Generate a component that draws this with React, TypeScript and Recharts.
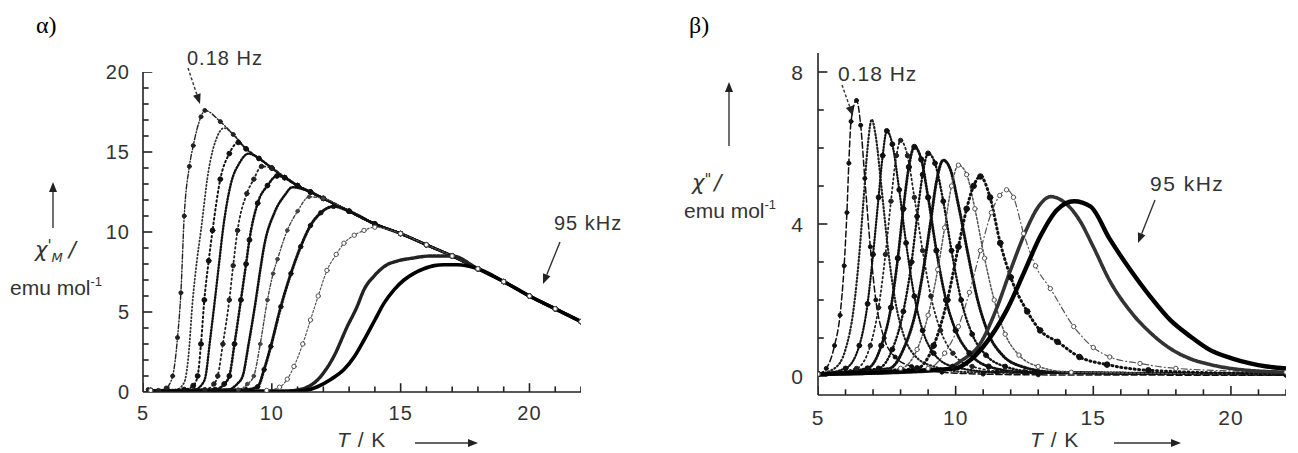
import React from 'react';
import { LineChart, Line, XAxis, YAxis } from 'recharts';

type Pt = [number, number];

// ---------- shared axis ticks ----------
const xTicks = [5, 6, 7, 8, 9, 10, 11, 12, 13, 14, 15, 16, 17, 18, 19, 20, 21, 22];
const xMajor = [5, 10, 15, 20];
const alphaYTicks = [0, 1, 2, 3, 4, 5, 6, 7, 8, 9, 10, 11, 12, 13, 14, 15, 16, 17, 18, 19, 20];
const alphaYMajor = [0, 5, 10, 15, 20];
const betaYTicks = [0, 1, 2, 3, 4, 5, 6, 7, 8];
const betaYMajor = [0, 4, 8];

// ---------- α panel: χ'M (emu/mol) vs T (K) ----------
const alphaEnvelope: Pt[] = [[7.5, 17.6], [8, 16.9], [8.5, 16.1], [9, 15.2], [9.5, 14.6], [10, 14.0], [10.5, 13.4], [11, 12.9], [11.5, 12.5], [12, 12.1], [13, 11.3], [14, 10.5], [15, 9.9], [16, 9.2], [17, 8.5], [18, 7.7], [19, 6.9], [20, 6.0], [21, 5.2], [22, 4.4]];
const alpha018Hz: Pt[] = [[5.2, 0.15], [5.6, 0.1], [5.9, 0.25], [6.15, 1.0], [6.34, 3.4], [6.47, 6.2], [6.6, 11.0], [6.8, 14.1], [6.95, 15.4], [7.25, 17.2], [7.4, 17.6]];
const alphaF2: Pt[] = [[5.3, 0.1], [6.3, 0.15], [6.6, 0.6], [6.75, 2.0], [6.93, 5.75], [7.1, 8.3], [7.25, 10.1], [7.53, 13.7], [7.89, 16.0], [8.15, 16.5]];
const alphaF3: Pt[] = [[5.3, 0.1], [6.6, 0.15], [6.95, 0.4], [7.12, 1.0], [7.25, 3.0], [7.38, 5.75], [7.55, 8.2], [7.7, 10.1], [8.0, 13.3], [8.35, 14.9], [8.7, 15.6]];
const alphaF4: Pt[] = [[5.3, 0.1], [7.0, 0.15], [7.3, 0.5], [7.43, 1.0], [7.6, 3.2], [7.79, 5.75], [7.95, 8.0], [8.1, 10.1], [8.41, 13.0], [8.74, 14.3], [9.1, 14.9]];
const alphaF5: Pt[] = [[5.3, 0.1], [7.4, 0.15], [7.75, 0.5], [7.9, 1.0], [8.1, 3.0], [8.35, 5.75], [8.5, 7.9], [8.67, 10.1], [9.03, 12.4], [9.3, 13.3], [9.6, 14.1]];
const alphaF6: Pt[] = [[5.3, 0.1], [7.8, 0.15], [8.15, 0.5], [8.35, 1.0], [8.55, 3.0], [8.8, 5.75], [9.0, 8.0], [9.13, 9.5], [9.45, 11.8], [9.83, 12.9], [10.2, 13.5]];
const alphaF7: Pt[] = [[5.3, 0.1], [8.3, 0.15], [8.65, 0.5], [8.87, 1.0], [9.1, 3.0], [9.38, 5.75], [9.55, 7.6], [9.7, 9.1], [10.1, 11.2], [10.5, 12.3], [10.8, 12.8]];
const alphaF8: Pt[] = [[5.3, 0.1], [8.7, 0.15], [9.05, 0.5], [9.3, 1.0], [9.55, 3.0], [9.83, 5.75], [10.05, 7.4], [10.22, 8.3], [10.6, 10.1], [11.0, 11.3], [11.45, 12.2]];
const alphaF9: Pt[] = [[5.3, 0.1], [9.0, 0.15], [9.45, 0.33], [9.7, 1.4], [9.96, 2.85], [10.35, 5.33], [10.74, 7.4], [11.12, 9.08], [11.5, 10.4], [11.9, 11.2], [12.4, 11.6]];
const alphaF10: Pt[] = [[5.3, 0.1], [9.8, 0.1], [10.3, 0.3], [10.6, 0.8], [10.86, 1.6], [11.2, 3.0], [11.5, 4.5], [11.8, 6.0], [12.14, 7.6], [12.5, 8.6], [12.8, 9.3], [13.2, 9.8], [13.58, 10.1], [14.0, 10.3]];
const alphaF11: Pt[] = [[5.3, 0.05], [10.5, 0.05], [11.2, 0.2], [11.8, 0.8], [12.4, 2.2], [12.93, 4.1], [13.3, 5.3], [13.58, 6.4], [14.0, 7.3], [14.35, 7.83], [14.9, 8.2], [15.4, 8.35], [16.16, 8.5], [16.6, 8.5]];
const alpha95kHz: Pt[] = [[5.3, 0.05], [11.0, 0.05], [11.77, 0.33], [12.3, 0.8], [12.8, 1.4], [13.2, 2.2], [13.58, 3.25], [14.0, 4.5], [14.35, 5.54], [14.75, 6.4], [15.13, 7.0], [15.5, 7.4], [15.9, 7.7], [16.3, 7.9], [16.68, 7.95], [17.2, 7.95]];

// ---------- β panel: χ'' (emu/mol) vs T (K) ----------
const beta018Hz: Pt[] = [[5.0, 0.05], [5.3, 0.2], [5.6, 0.8], [5.8, 1.6], [5.95, 2.9], [6.05, 4.3], [6.12, 5.6], [6.2, 6.7], [6.4, 7.25], [6.55, 6.6], [6.7, 5.2], [6.9, 3.4], [7.1, 2.0], [7.4, 1.0], [7.8, 0.5], [8.4, 0.25], [9.5, 0.1], [11, 0.05], [13, 0.03], [22, 0.02]];
const betaF2: Pt[] = [[5, 0.05], [5.6, 0.2], [6.0, 0.7], [6.3, 1.8], [6.5, 3.2], [6.65, 4.6], [6.8, 6.0], [6.95, 6.75], [7.1, 6.3], [7.3, 5.0], [7.55, 3.3], [7.8, 2.0], [8.1, 1.1], [8.5, 0.55], [9.2, 0.25], [10.5, 0.1], [22, 0.05]];
const betaF3: Pt[] = [[5, 0.05], [6.0, 0.2], [6.5, 0.8], [6.8, 1.9], [7.0, 3.2], [7.2, 4.7], [7.35, 5.8], [7.5, 6.45], [7.7, 6.1], [7.95, 4.9], [8.2, 3.5], [8.5, 2.1], [8.8, 1.2], [9.2, 0.6], [9.9, 0.25], [11.5, 0.1], [22, 0.05]];
const betaF4: Pt[] = [[5, 0.05], [6.4, 0.2], [6.9, 0.8], [7.2, 1.8], [7.45, 3.2], [7.65, 4.6], [7.85, 5.8], [8.0, 6.2], [8.25, 5.8], [8.5, 4.7], [8.8, 3.3], [9.1, 2.1], [9.45, 1.2], [9.9, 0.6], [10.6, 0.25], [12, 0.1], [22, 0.05]];
const betaF5: Pt[] = [[5, 0.05], [6.8, 0.2], [7.3, 0.8], [7.65, 1.8], [7.9, 3.1], [8.1, 4.4], [8.3, 5.5], [8.5, 6.03], [8.75, 5.7], [9.0, 4.7], [9.3, 3.3], [9.65, 2.0], [10.0, 1.2], [10.5, 0.6], [11.2, 0.25], [12.5, 0.1], [22, 0.05]];
const betaF6: Pt[] = [[5, 0.05], [7.2, 0.2], [7.7, 0.7], [8.1, 1.7], [8.4, 3.0], [8.6, 4.2], [8.8, 5.3], [9.0, 5.86], [9.25, 5.6], [9.55, 4.6], [9.85, 3.3], [10.2, 2.0], [10.6, 1.1], [11.1, 0.55], [11.8, 0.25], [13, 0.1], [22, 0.05]];
const betaF7: Pt[] = [[5, 0.05], [7.6, 0.2], [8.1, 0.7], [8.55, 1.7], [8.85, 2.9], [9.1, 4.1], [9.3, 5.1], [9.55, 5.68], [9.8, 5.45], [10.1, 4.5], [10.45, 3.2], [10.8, 2.0], [11.2, 1.1], [11.7, 0.55], [12.4, 0.25], [13.6, 0.1], [22, 0.05]];
const betaF8: Pt[] = [[5, 0.05], [8.0, 0.2], [8.6, 0.7], [9.0, 1.6], [9.35, 2.8], [9.6, 3.9], [9.85, 5.0], [10.1, 5.55], [10.4, 5.3], [10.7, 4.4], [11.05, 3.1], [11.4, 2.0], [11.8, 1.1], [12.3, 0.55], [13.0, 0.25], [14.2, 0.1], [22, 0.05]];
const betaF9: Pt[] = [[5, 0.05], [8.6, 0.2], [9.2, 0.8], [9.7, 2.0], [10.1, 3.4], [10.4, 4.4], [10.65, 5.0], [10.9, 5.25], [11.25, 4.7], [11.62, 3.5], [12.0, 2.6], [12.6, 1.7], [13.07, 1.2], [13.7, 0.9], [14.5, 0.5], [15.5, 0.3], [17, 0.15], [22, 0.05]];
const betaF10: Pt[] = [[5, 0.05], [9.0, 0.2], [9.6, 0.6], [10.1, 1.3], [10.5, 2.2], [10.9, 3.3], [11.3, 4.3], [11.6, 4.75], [11.85, 4.9], [12.1, 4.7], [12.47, 3.75], [12.9, 2.9], [13.44, 2.3], [14.29, 1.3], [15.0, 0.75], [15.6, 0.5], [16.7, 0.33], [18, 0.2], [22, 0.1]];
const betaF11: Pt[] = [[5, 0.05], [9.5, 0.15], [10.2, 0.4], [10.9, 0.86], [11.5, 1.8], [12.0, 2.8], [12.6, 3.9], [13.0, 4.45], [13.45, 4.72], [13.9, 4.6], [14.5, 4.1], [15.0, 3.4], [15.6, 2.5], [16.35, 1.7], [17.1, 1.12], [17.8, 0.72], [18.5, 0.46], [19.25, 0.3], [20.3, 0.17], [22, 0.1]];
const beta95kHz: Pt[] = [[5, 0.05], [10.0, 0.2], [10.5, 0.4], [11.0, 0.77], [11.86, 1.74], [12.47, 2.7], [13.07, 3.67], [13.68, 4.37], [14.3, 4.6], [14.9, 4.46], [15.6, 3.6], [16.35, 2.79], [17.07, 2.09], [17.8, 1.47], [18.53, 1.04], [19.25, 0.68], [20.0, 0.47], [20.7, 0.33], [21.3, 0.25], [22, 0.2]];

// ---------- helpers ----------
const withTail = (rise: Pt[], env: Pt[]): Pt[] => {
  const last = rise[rise.length - 1][0];
  return [...rise, ...env.filter((p) => p[0] > last + 0.2)];
};
const toRows = (pts: Pt[]) => pts.map(([T, v]) => ({ T, v }));

type Sty = { stroke: string; w: number; dash?: string; dot?: number; open?: boolean };

const alphaRises = [alpha018Hz, alphaF2, alphaF3, alphaF4, alphaF5, alphaF6, alphaF7, alphaF8, alphaF9, alphaF10, alphaF11, alpha95kHz];
const alphaStyles: Sty[] = [
  { stroke: '#222', w: 1.4, dash: '5 2 1 2', dot: 2 },
  { stroke: '#333', w: 1.8, dash: '1 2.5' },
  { stroke: '#111', w: 2.0, dash: '1.5 3', dot: 2.4 },
  { stroke: '#111', w: 2.4, dash: '1 2' },
  { stroke: '#222', w: 1.8, dash: '1.5 3', dot: 2.2 },
  { stroke: '#111', w: 2.6, dash: '1 2.2', dot: 2.4 },
  { stroke: '#111', w: 2.6, dash: '1 1.8' },
  { stroke: '#444', w: 1.4, dash: '3 2 1 2', dot: 1.8 },
  { stroke: '#111', w: 3.0, dash: '1 2', dot: 2.2 },
  { stroke: '#555', w: 1.2, dash: '2 2', dot: 2.2, open: true },
  { stroke: '#222', w: 3.4, dash: '3 1.2' },
  { stroke: '#000', w: 3.6 },
];
const alphaSeries = alphaRises.map((r) => toRows(withTail(r, alphaEnvelope)));

const betaCurves = [beta018Hz, betaF2, betaF3, betaF4, betaF5, betaF6, betaF7, betaF8, betaF9, betaF10, betaF11, beta95kHz];
const betaStyles: Sty[] = [
  { stroke: '#111', w: 1.5, dash: '6 3', dot: 2 },
  { stroke: '#222', w: 2.2, dash: '1 2.5' },
  { stroke: '#111', w: 2.2, dash: '1 2', dot: 2.4 },
  { stroke: '#222', w: 1.8, dash: '1.5 3', dot: 2.2 },
  { stroke: '#111', w: 2.8, dash: '1 2', dot: 2.6 },
  { stroke: '#111', w: 2.4, dash: '1 2.5', dot: 2.4 },
  { stroke: '#111', w: 3.0, dash: '1 2' },
  { stroke: '#555', w: 1.5, dash: '2 2', dot: 2.2, open: true },
  { stroke: '#111', w: 3.0, dash: '1 3.5', dot: 2.8 },
  { stroke: '#555', w: 1.2, dash: '6 3 1 3', dot: 2.2, open: true },
  { stroke: '#333', w: 3.6, dash: '3 1' },
  { stroke: '#000', w: 4.4 },
];
const betaSeries = betaCurves.map((c) => toRows(c));

const FONT = "'Liberation Sans', Arial, sans-serif";
const AX = '#222';
const Y_W = 40;
const X_H = 30;

// inward tick marks, built from the tick arrays as tiny two-point series (lengths in data units)
const tickSeries = (
  xs: number[], xMaj: number[], ys: number[], yMaj: number[],
  x0: number, y0: number, xLen: [number, number], yLen: [number, number],
) => [
  ...xs.map((t) => {
    const len = xMaj.includes(t) ? xLen[0] : xLen[1];
    return [{ T: t, v: y0 }, { T: t, v: y0 + len }];
  }),
  ...ys.map((v) => {
    const len = yMaj.includes(v) ? yLen[0] : yLen[1];
    return [{ T: x0, v }, { T: x0 + len, v }];
  }),
];
const alphaTickSeries = tickSeries(xTicks, xMajor, alphaYTicks, alphaYMajor, 5, 0, [0.55, 0.35], [0.36, 0.22]);
const betaTickSeries = tickSeries(xTicks, xMajor, betaYTicks, betaYMajor, 5, -0.5, [0.24, 0.15], [0.34, 0.21]);

const makeYLabel = (major: number[], fs: number) => (props: any) => {
  const { x, y, payload } = props;
  const v = payload.value;
  if (!major.includes(v)) return <g />;
  return (
    <text x={x} y={y} textAnchor="end" dominantBaseline="central" fontSize={fs} fill="#333" fontFamily={FONT} letterSpacing={1}>
      {v}
    </text>
  );
};
const makeXLabel = (major: number[], fs: number) => (props: any) => {
  const { x, y, payload } = props;
  const v = payload.value;
  if (!major.includes(v)) return <g />;
  return (
    <text x={x} y={y} textAnchor="middle" dominantBaseline="central" fontSize={fs} fill="#333" fontFamily={FONT} letterSpacing={1}>
      {v}
    </text>
  );
};

const renderLines = (series: { T: number; v: number }[][], styles: Sty[], prefix: string) =>
  series.map((rows, i) => {
    const s = styles[i];
    return (
      <Line
        key={prefix + i}
        data={rows}
        dataKey="v"
        type="monotone"
        stroke={s.stroke}
        strokeWidth={s.w}
        strokeDasharray={s.dash}
        strokeLinecap="round"
        dot={s.dot ? { r: s.dot, fill: s.open ? '#fff' : s.stroke, stroke: s.stroke, strokeWidth: 1, strokeDasharray: '' } : false}
        activeDot={false}
        isAnimationActive={false}
      />
    );
  });

const renderTicks = (series: { T: number; v: number }[][], prefix: string) =>
  series.map((rows, i) => (
    <Line
      key={prefix + i}
      data={rows}
      dataKey="v"
      type="linear"
      stroke={AX}
      strokeWidth={1.6}
      dot={false}
      activeDot={false}
      legendType="none"
      isAnimationActive={false}
    />
  ));

const Arrow = ({ x1, y1, x2, y2, dash }: { x1: number; y1: number; x2: number; y2: number; dash?: string }) => {
  const a = Math.atan2(y2 - y1, x2 - x1);
  const L = 10, W = 4;
  const bx = x2 - L * Math.cos(a), by = y2 - L * Math.sin(a);
  const p1 = `${bx + W * Math.sin(a)},${by - W * Math.cos(a)}`;
  const p2 = `${bx - W * Math.sin(a)},${by + W * Math.cos(a)}`;
  return (
    <g>
      <line x1={x1} y1={y1} x2={bx} y2={by} stroke="#333" strokeWidth={1.4} strokeDasharray={dash} />
      <polygon points={`${x2},${y2} ${p1} ${p2}`} fill="#222" />
    </g>
  );
};

export default function App() {
  const al = { stroke: AX, strokeWidth: 1.6 };
  return (
    <div style={{ position: 'fixed', left: 0, top: 0, width: 1298, height: 453, background: '#fff', overflow: 'hidden' }}>
      <div style={{ position: 'absolute', left: 0, top: 0 }}>
        <LineChart width={600} height={453} margin={{ top: 72, right: 19, bottom: 61 - X_H, left: 143 - Y_W }}>
          <XAxis dataKey="T" type="number" domain={[5, 22]} ticks={xTicks} interval={0} height={X_H} tickSize={0} tickMargin={21}
            tick={makeXLabel(xMajor, 20)} tickLine={false} axisLine={al} allowDataOverflow />
          <YAxis type="number" domain={[0, 20]} ticks={alphaYTicks} interval={0} width={Y_W} tickSize={0} tickMargin={13}
            tick={makeYLabel(alphaYMajor, 20)} tickLine={false} axisLine={al} allowDataOverflow />
          {renderTicks(alphaTickSeries, 'at')}
          {renderLines(alphaSeries, alphaStyles, 'a')}
        </LineChart>
      </div>
      <div style={{ position: 'absolute', left: 660, top: 0 }}>
        <LineChart width={638} height={453} margin={{ top: 53, right: 12, bottom: 58 - X_H, left: 158 - Y_W }}>
          <XAxis dataKey="T" type="number" domain={[5, 22]} ticks={xTicks} interval={0} height={X_H} tickSize={0} tickMargin={22}
            tick={makeXLabel(xMajor, 21)} tickLine={false} axisLine={al} allowDataOverflow />
          <YAxis type="number" domain={[-0.5, 8.5]} ticks={betaYTicks} interval={0} width={Y_W} tickSize={0} tickMargin={14}
            tick={makeYLabel(betaYMajor, 21)} tickLine={false} axisLine={al} allowDataOverflow />
          {renderTicks(betaTickSeries, 'bt')}
          {renderLines(betaSeries, betaStyles, 'b')}
        </LineChart>
      </div>
      <svg width={1298} height={453} style={{ position: 'absolute', left: 0, top: 0, pointerEvents: 'none' }}>
        {/* panel letters */}
        <text x={36} y={33} fontSize={24} fontFamily="'Liberation Serif', 'Times New Roman', serif" fill="#000">α)</text>
        <text x={689} y={33} fontSize={24} fontFamily="'Liberation Serif', 'Times New Roman', serif" fill="#000">β)</text>

        {/* α annotations */}
        <text x={187} y={65} fontSize={20} fontFamily={FONT} fill="#333" letterSpacing={1}>0.18 Hz</text>
        <Arrow x1={188} y1={68} x2={200} y2={104} dash="3 2" />
        <text x={554} y={230} fontSize={20} fontFamily={FONT} fill="#333" letterSpacing={1}>95 kHz</text>
        <Arrow x1={560} y1={242} x2={543} y2={284} />
        {/* α y label */}
        <Arrow x1={53} y1={228} x2={53} y2={182} />
        <text x={35} y={257} fontSize={21} fontFamily="'DejaVu Sans', sans-serif" fontStyle="italic" fill="#333">
          χ<tspan fontSize={15} dy={-6}>'</tspan><tspan fontSize={13} dy={11}>M</tspan><tspan dy={-5} dx={6}>/</tspan>
        </text>
        <text x={10} y={295} fontSize={21} fontFamily={FONT} fill="#333">
          emu mol<tspan fontSize={13} dy={-9}>-1</tspan>
        </text>
        {/* α x label */}
        <text x={337} y={447} fontSize={21} fontFamily={FONT} fill="#333" letterSpacing={1}>
          <tspan fontStyle="italic">T</tspan> / K
        </text>
        <Arrow x1={415} y1={443} x2={478} y2={443} />

        {/* β annotations */}
        <text x={838} y={81} fontSize={21} fontFamily={FONT} fill="#333" letterSpacing={1}>0.18 Hz</text>
        <Arrow x1={842} y1={85} x2={853} y2={116} dash="3 2" />
        <text x={1150} y={191} fontSize={21} fontFamily={FONT} fill="#333" letterSpacing={1.5}>95 kHz</text>
        <Arrow x1={1155} y1={200} x2={1138} y2={243} />
        {/* β y label */}
        <Arrow x1={729} y1={146} x2={729} y2={82} />
        <text x={692} y={190} fontSize={21} fontFamily="'DejaVu Sans', sans-serif" fontStyle="italic" fill="#333">
          χ<tspan fontSize={15} dy={-5}>"</tspan><tspan dy={5} dx={3}>/</tspan>
        </text>
        <text x={684} y={218} fontSize={21} fontFamily={FONT} fill="#333">
          emu mol<tspan fontSize={13} dy={-9}>-1</tspan>
        </text>
        {/* β x label */}
        <text x={1030} y={447} fontSize={21} fontFamily={FONT} fill="#333" letterSpacing={1}>
          <tspan fontStyle="italic">T</tspan> / K
        </text>
        <Arrow x1={1114} y1={443} x2={1181} y2={443} />
      </svg>
    </div>
  );
}
